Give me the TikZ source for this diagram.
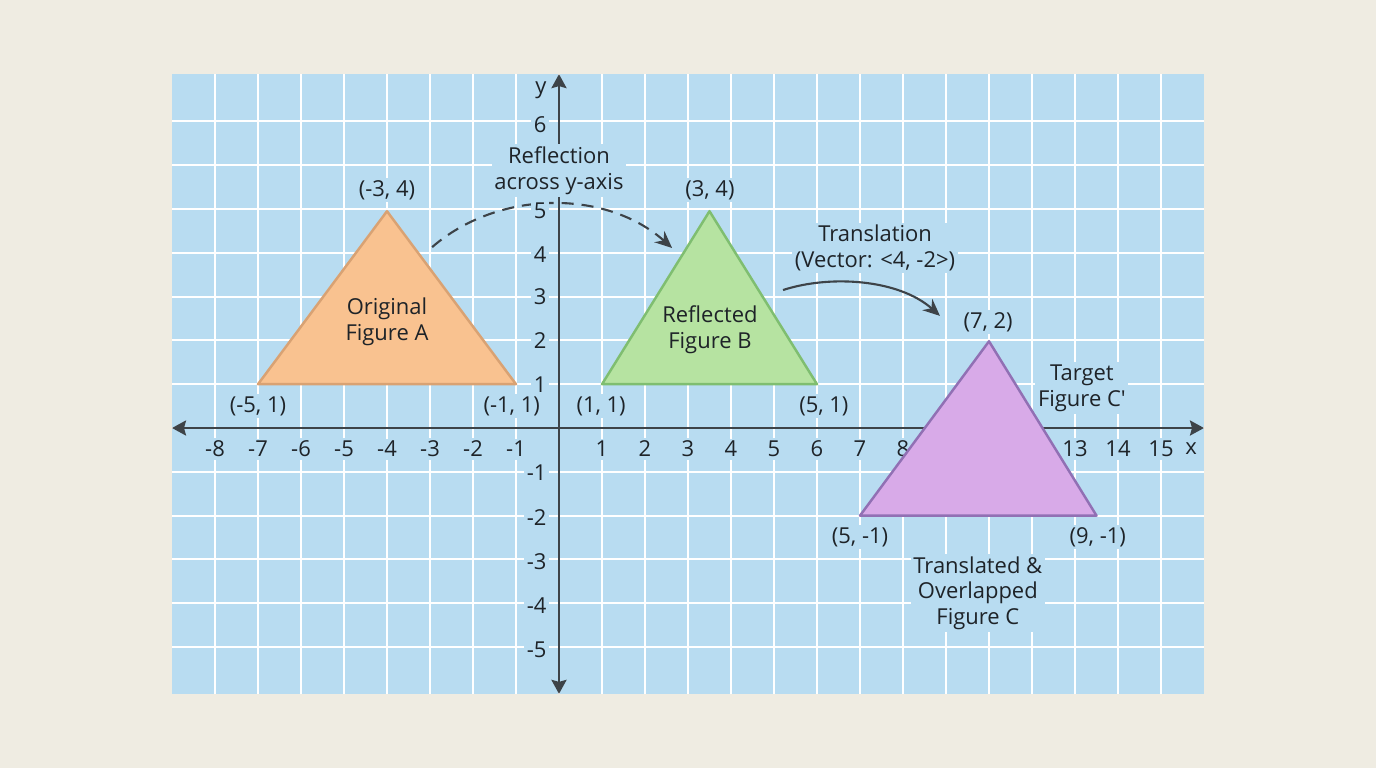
\documentclass[tikz,border=0pt]{standalone}
\usepackage{fontspec}
\setmainfont{Open Sans}
\usepackage{xcolor}
\usetikzlibrary{arrows.meta}
\definecolor{paper}{HTML}{EFECE2}
\definecolor{gridblue}{HTML}{B8DCF1}
\definecolor{axisgray}{HTML}{3D4348}
\definecolor{ink}{HTML}{1E2328}
\definecolor{orangefill}{HTML}{F9C290}
\definecolor{orangeline}{HTML}{D9A273}
\definecolor{greenfill}{HTML}{B6E3A1}
\definecolor{greenline}{HTML}{7FBE70}
\definecolor{purplefill}{HTML}{D8AAE8}
\definecolor{purpleline}{HTML}{9170B4}
\tikzset{
	lbl/.style={fill=gridblue, inner sep=1.5pt, text=ink, align=center,
			font=\fontsize{12.5}{14.5}\selectfont},
	inlbl/.style={inner sep=0pt, text=ink, align=center,
			font=\fontsize{12.5}{14.5}\selectfont},
	gridline/.style={draw=white, line width=1.1pt},
	axis/.style={draw=axisgray, line width=1.4pt,
			{Stealth[length=0.28cm,width=0.3cm,inset=0.04cm]}-{Stealth[length=0.28cm,width=0.3cm,inset=0.04cm]}}
}

\begin{document}
\begin{tikzpicture}[x=0.86cm, y=0.876cm]
				\useasboundingbox [fill=paper] (-13,-7.763) rectangle (19,9.772);
				% grid
				\fill [gridblue] (-9,-6.07) rectangle (15,8.08);
				\draw [gridline] (-8.5,-6.07) grid [xstep=1, ystep=20] (14.5,8.08);
				\draw [gridline] (-9,-5.5) grid [xstep=20, ystep=1] (15,7.5);
				% axes
				\draw [axis] (-9, 0) to (15, 0);
				\draw [axis] (0, -6.07) to (0, 8.08);
				% connectors
				\coordinate (reflFrom) at (-2.95, 4.13);
				\coordinate (reflTo) at (2.63, 4.11);
				\coordinate (transFrom) at (5.21, 3.15);
				\coordinate (transTo) at (8.86, 2.56);
				\draw [axisgray, line width=1.2pt, dash pattern=on 0.24cm off 0.16cm,
					-{Stealth[length=0.34cm,width=0.3cm]}]
					(reflFrom) .. controls (-1.4, 5.45) and (1.1, 5.45) .. (reflTo);
				\draw [axisgray, line width=1.2pt, -{Stealth[length=0.34cm,width=0.3cm]}]
					(transFrom) .. controls (6.3, 3.5) and (7.9, 3.4) .. (transTo);
				% tick labels
				\foreach \v in {-8,-7,-6,-5,-4,-3,-2,-1,1,2,3,4,5,6,7,8}
					\node [lbl] (xt\v) at (\v, -0.48) {\v};
				\node [lbl] (xt13) at (12, -0.48) {13};
				\node [lbl] (xt14) at (13, -0.48) {14};
				\node [lbl] (xt15) at (14, -0.48) {15};
				\node [lbl] (xname) at (14.7, -0.48) {x};
				\foreach \v/\h in {5/4.95,4/3.97,3/2.99,2/1.99,1/1,-1/-1.03,-2/-2.05,-3/-3.06,-4/-4.06,-5/-5.07}
					\node [lbl, anchor=east] (yt\v) at (-0.22, \h) {\v};
				\node [lbl, anchor=east] (yt6) at (-0.22, 6.92) {6};
				\node [lbl] (yname) at (-0.42, 7.72) {y};
				% figures
				\coordinate (A1) at (-7, 1);
				\coordinate (A2) at (-4, 4.95);
				\coordinate (A3) at (-1, 1);
				\coordinate (B1) at (1, 1);
				\coordinate (B2) at (3.5, 4.95);
				\coordinate (B3) at (6, 1);
				\coordinate (C1) at (7, -2);
				\coordinate (C2) at (10, 1.98);
				\coordinate (C3) at (12.5, -2);
				\filldraw [fill=orangefill, draw=orangeline, line width=1.4pt, line join=round]
					(A1) -- (A2) -- (A3) -- cycle;
				\filldraw [fill=greenfill, draw=greenline, line width=1.4pt, line join=round]
					(B1) -- (B2) -- (B3) -- cycle;
				\filldraw [fill=purplefill, draw=purpleline, line width=1.4pt, line join=round]
					(C1) -- (C2) -- (C3) -- cycle;
				% labels
				\node [inlbl] (figA) at (-4, 2.42) {Original\\Figure A};
				\node [inlbl] (figB) at (3.51, 2.24) {Reflected\\Figure B};
				\node [lbl] (reflText) at (0, 5.87) {Reflection\\across y-axis};
				\node [lbl] (transText) at (7.35, 4.11) {Translation\\(Vector: <4, -2>)};
				\node [lbl] (targetText) at (12.16, 0.91) {Target\\Figure C′};
				\node [lbl] (figC) at (9.74, -3.77) {Translated \&\\Overlapped\\Figure C};
				\node [lbl] (ptA2) at (-4, 5.43) {(-3, 4)};
				\node [lbl] (ptA1) at (-7, 0.5) {(-5, 1)};
				\node [lbl] (ptA3) at (-1.1, 0.5) {(-1, 1)};
				\node [lbl] (ptB2) at (3.51, 5.43) {(3, 4)};
				\node [lbl] (ptB1) at (0.98, 0.5) {(1, 1)};
				\node [lbl] (ptB3) at (6.16, 0.5) {(5, 1)};
				\node [lbl] (ptC2) at (9.98, 2.42) {(7, 2)};
				\node [lbl] (ptC1) at (7, -2.49) {(5, -1)};
				\node [lbl] (ptC3) at (12.53, -2.49) {(9, -1)};
			\end{tikzpicture}
\end{document}
